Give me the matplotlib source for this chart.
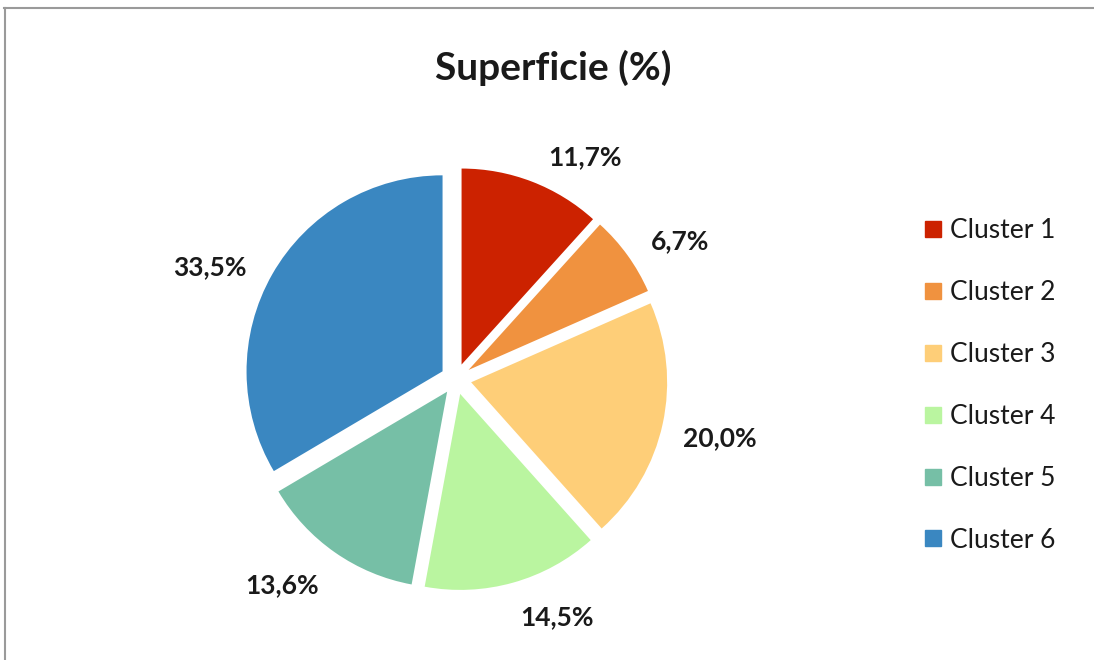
import matplotlib
matplotlib.use("Agg")
import matplotlib.pyplot as plt
from matplotlib.lines import Line2D

# Surface share per cluster (%)
clusters = ["Cluster 1", "Cluster 2", "Cluster 3", "Cluster 4", "Cluster 5", "Cluster 6"]
superficie = [11.7, 6.7, 20.0, 14.5, 13.6, 33.5]
colors = ["#CC2200", "#F0923F", "#FECE78", "#BAF5A0", "#76BFA6", "#3A87C1"]
title = "Superficie (%)"

# Label anchor points (in pie-radius units)
label_pos = [(0.658, 1.133), (1.143, 0.704), (1.347, -0.301),
             (0.515, -1.214), (-0.888, -1.051), (-1.255, 0.571)]

plt.rcParams["font.family"] = ["Lato", "DejaVu Sans"]

W, H = 1094, 660
fig = plt.figure(figsize=(W / 100, H / 100), dpi=100)

# Pie axes: radius ~196 px, centre at (456, 379) px from top-left
R = 196.0
lim = 1.3
side = 2 * lim * R
cx, cy = 456.0, 379.0
ax = fig.add_axes([(cx - side / 2) / W, (H - cy - side / 2) / H, side / W, side / H])

wedges, _ = ax.pie(
    superficie,
    colors=colors,
    startangle=90,
    counterclock=False,
    explode=[0.079] * len(superficie),
    radius=1.0,
    wedgeprops=dict(linewidth=0),
)
ax.set_xlim(-lim, lim)
ax.set_ylim(-lim, lim)
ax.set_aspect("equal")
ax.axis("off")

for v, (x, y) in zip(superficie, label_pos):
    ax.text(x, y, f"{v:.1f}".replace(".", ",") + "%", ha="center", va="center",
            fontsize=19, fontweight="bold", color="#1a1a1a")

fig.text(553 / W, 1 - 68 / H, title, ha="center", va="center",
         fontsize=28, fontweight="bold", color="#1a1a1a")

handles = [Line2D([0], [0], marker="s", linestyle="none", markersize=11.5,
                  markerfacecolor=c, markeredgecolor=c) for c in colors]
leg = fig.legend(handles, clusters, loc="upper left",
                 bbox_to_anchor=(924 / W, 1 - 218 / H), frameon=False,
                 fontsize=19, labelspacing=1.4, handlelength=0.7,
                 handletextpad=0.3, borderaxespad=0, borderpad=0)
for t in leg.get_texts():
    t.set_color("#1a1a1a")

# Thin grey frame lines along the top and left edges
fig.add_artist(Line2D([4 / W, 1], [1 - 8 / H, 1 - 8 / H], color="#9a9a9a", lw=1.5))
fig.add_artist(Line2D([4.5 / W, 4.5 / W], [0, 1 - 8 / H], color="#9a9a9a", lw=1.5))

fig.savefig("out.png", dpi=100, facecolor="white")
